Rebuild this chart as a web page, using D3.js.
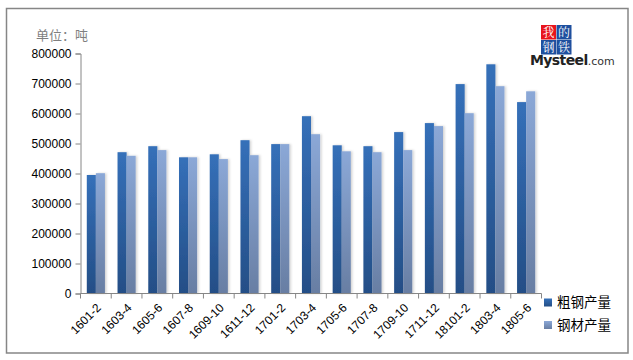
<!DOCTYPE html>
<html>
<head>
<meta charset="utf-8">
<script src="https://cdn.jsdelivr.net/npm/d3@7"></script>
<style>
  body { margin: 0; background: #fff; }
  svg { display: block; font-family: "Liberation Sans", Arial, sans-serif; }
</style>
</head>
<body>
<svg width="633" height="360"></svg>
<script>
var categories = ['1601-2', '1603-4', '1605-6', '1607-8', '1609-10', '1611-12', '1701-2', '1703-4',
    '1705-6', '1707-8', '1709-10', '1711-12', '18101-2', '1803-4', '1805-6'];
var crudeSteel = [395000, 471000, 491000, 454000, 464000, 511000, 498000, 591000,
    494000, 491000, 538000, 568000, 698000, 764000, 638000];
var steelProducts = [401000, 459000, 478000, 454000, 448000, 461000, 498000, 531000,
    474000, 471000, 478000, 558000, 601000, 691000, 674000];
var seriesNames = ['粗钢产量', '钢材产量'];
var yTicks = [0, 100000, 200000, 300000, 400000, 500000, 600000, 700000, 800000];

var svg = d3.select('svg');

// outer frame
svg.append('rect')
    .attr('x', 6.5).attr('y', 8.5)
    .attr('width', 621.5).attr('height', 344.5)
    .attr('fill', 'none')
    .attr('stroke', '#868686')
    .attr('stroke-width', 1.5);

// gradients
var defs = svg.append('defs');
function grad(id, c0, c1) {
    var g = defs.append('linearGradient').attr('id', id)
        .attr('x1', 0).attr('y1', 0).attr('x2', 0).attr('y2', 1);
    g.append('stop').attr('offset', '0%').attr('stop-color', c0);
    g.append('stop').attr('offset', '100%').attr('stop-color', c1);
}
grad('g0', '#3570b9', '#244e86');
grad('g1', '#8ba8d7', '#687ea3');
var shadow = defs.append('filter').attr('id', 'sh')
    .attr('x', '-20%').attr('y', '-5%').attr('width', '160%').attr('height', '110%');
shadow.append('feDropShadow').attr('dx', 1.5).attr('dy', 0).attr('stdDeviation', 1)
    .attr('flood-color', '#000').attr('flood-opacity', 0.18);

var plotLeft = 80.5, plotRight = 541.5, plotTop = 53.5, plotBottom = 293.5;

var x = d3.scaleBand()
    .domain(categories)
    .range([plotLeft, plotRight])
    .paddingInner(0.41)
    .paddingOuter(0.205);

var x1 = d3.scaleBand()
    .domain([0, 1])
    .range([0, x.bandwidth()]);

var y = d3.scaleLinear()
    .domain([0, 800000])
    .range([plotBottom, plotTop]);

// bars
var groups = svg.append('g').selectAll('g')
    .data(categories)
    .enter().append('g')
    .attr('transform', function (d) { return 'translate(' + x(d) + ',0)'; });

groups.selectAll('rect')
    .data(function (d, i) { return [crudeSteel[i], steelProducts[i]]; })
    .enter().append('rect')
    .attr('x', function (d, j) { return x1(j); })
    .attr('y', function (d) { return y(d); })
    .attr('width', x1.bandwidth())
    .attr('height', function (d) { return y(0) - y(d); })
    .attr('fill', function (d, j) { return 'url(#g' + j + ')'; })
    .attr('filter', 'url(#sh)');

// y axis
var yAxis = d3.axisLeft(y)
    .tickValues(yTicks)
    .tickSize(5)
    .tickPadding(4)
    .tickFormat(d3.format('d'));

var yg = svg.append('g')
    .attr('transform', 'translate(' + plotLeft + ',0)')
    .call(yAxis);
yg.select('.domain').attr('stroke', '#868686');
yg.selectAll('.tick line').attr('stroke', '#868686');
yg.selectAll('.tick text').attr('font-size', '12px').attr('fill', '#000')
    .attr('font-family', '"Liberation Sans", Arial, sans-serif');

// x axis (ticks at band boundaries)
var xg = svg.append('g')
    .attr('transform', 'translate(0,' + plotBottom + ')');
xg.append('line')
    .attr('x1', plotLeft).attr('x2', plotRight)
    .attr('stroke', '#868686');
var step = x.step();
var boundaries = d3.range(categories.length + 1).map(function (i) { return plotLeft + i * step; });
xg.selectAll('.b').data(boundaries).enter().append('line')
    .attr('x1', function (d) { return d; }).attr('x2', function (d) { return d; })
    .attr('y1', 0).attr('y2', 5)
    .attr('stroke', '#868686');
xg.selectAll('.lbl').data(categories).enter().append('text')
    .attr('transform', function (d) {
        return 'translate(' + (x(d) + x.bandwidth() / 2 + 3) + ',12) rotate(-45)';
    })
    .attr('text-anchor', 'end')
    .attr('dy', '0.35em')
    .attr('font-size', '12px')
    .attr('fill', '#000')
    .text(function (d) { return d; });

// unit label
svg.append('text')
    .attr('x', 36).attr('y', 40)
    .attr('font-size', '13px')
    .attr('fill', '#7f7f7f')
    .attr('font-family', '"Noto Sans CJK SC", sans-serif')
    .text('单位：吨');

// legend
var legend = svg.append('g');
seriesNames.forEach(function (name, i) {
    var ly = 302.5 + i * 22.5;
    legend.append('rect')
        .attr('x', 544).attr('y', ly - 4)
        .attr('width', 8).attr('height', 8)
        .attr('fill', 'url(#g' + i + ')');
    legend.append('text')
        .attr('x', 557).attr('y', ly)
        .attr('dy', '0.36em')
        .attr('font-size', '13.5px')
        .attr('font-family', '"Noto Sans CJK SC", sans-serif')
        .attr('fill', '#000')
        .text(name);
});

// logo
var logo = svg.append('g').attr('transform', 'translate(541,25)');
var cells = [['我', '#e8141c'], ['的', '#1e4f9e'], ['钢', '#1e4f9e'], ['铁', '#1e4f9e']];
cells.forEach(function (c, i) {
    var cx = (i % 2) * 15.5, cy = Math.floor(i / 2) * 15;
    logo.append('rect').attr('x', cx).attr('y', cy)
        .attr('width', 15).attr('height', 14.5).attr('fill', c[1]);
    logo.append('text').attr('x', cx + 7.5).attr('y', cy + 11.5)
        .attr('text-anchor', 'middle')
        .attr('font-size', '12px')
        .attr('font-family', '"Noto Serif CJK SC", "Noto Sans CJK SC", serif')
        .attr('fill', '#fff')
        .text(c[0]);
});
var mt = svg.append('text').attr('x', 530).attr('y', 65)
    .attr('font-family', '"DejaVu Sans", sans-serif')
    .attr('fill', '#222');
mt.append('tspan').attr('font-size', '14px').attr('font-weight', 'bold').attr('letter-spacing', '-0.6').text('Mysteel');
mt.append('tspan').attr('font-size', '11px').attr('fill', '#333').text('.com');
</script>
</body>
</html>
